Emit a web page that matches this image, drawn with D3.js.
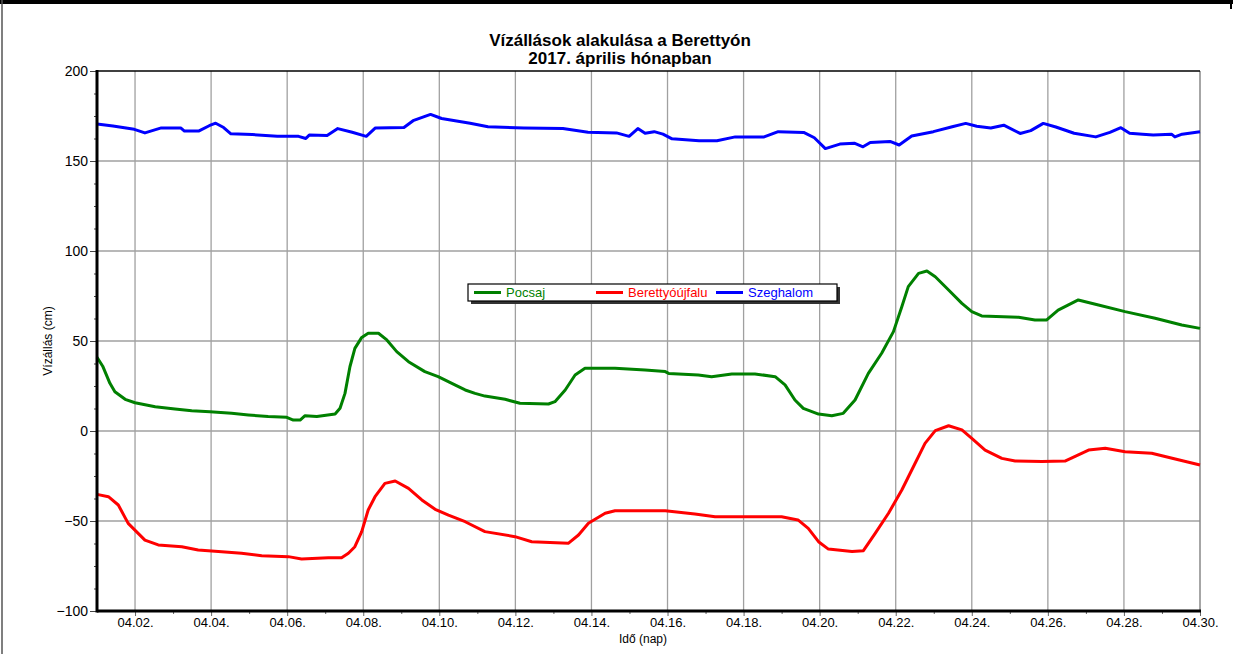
<!doctype html>
<html>
<head>
<meta charset="utf-8">
<style type="text/css">
  body { margin: 0; background: white; }
  text { font-family: "Liberation Sans", Arial, sans-serif; fill: black; }
  .title { font-size: 17px; font-weight: bold; text-anchor: middle; }
  .tick text { font-size: 13px; }
  .grid { stroke: #a0a0a0; stroke-width: 1.3; }
</style>
</head>
<body>
<svg width="1236" height="654"></svg>
<script src="https://d3js.org/d3.v7.min.js"></script>
<script>
// water levels (cm), [day of April, value]
var pocsaj = [[1.0,41],[1.15,36],[1.34,26.5],[1.47,21.8],[1.74,17.6],[2.0,15.7],[2.53,13.5],[3.05,12.2],[3.49,11.3],[3.97,10.7],
  [4.54,9.8],[4.98,8.9],[5.5,8.0],[5.99,7.6],[6.16,6.1],[6.34,6.1],[6.47,8.5],[6.78,8.0],[7.26,9.4],[7.39,12.6],[7.52,20.9],
  [7.65,35.7],[7.78,45.9],[7.96,52],[8.13,54.3],[8.4,54.3],[8.62,50.6],[8.88,44.1],[9.19,38.5],[9.62,33],[9.97,30.2],
  [10.41,25.6],[10.68,22.8],[10.94,20.9],[11.2,19.4],[11.73,17.6],[12.12,15.4],[12.87,15],[13.04,16.3],[13.31,22.8],
  [13.57,31.1],[13.83,34.8],[14.62,34.8],[15.41,33.9],[15.94,33],[16.03,32],[16.81,31.1],[17.16,30.2],[17.69,31.7],
  [18.3,31.7],[18.83,30.2],[19.09,25.6],[19.35,17.2],[19.57,12.6],[19.97,9.4],[20.32,8.5],[20.62,9.8],[20.93,17.2],
  [21.28,32],[21.63,43.2],[21.94,55.2],[22.16,69],[22.33,80.2],[22.6,87.6],[22.82,88.9],[23.04,85.7],[23.39,78.3],
  [23.74,70.9],[24.0,66.3],[24.26,63.9],[25.23,63.2],[25.66,61.7],[25.97,61.7],[26.27,67.2],[26.8,72.8],[27.33,70],
  [28.03,66.3],[28.82,62.6],[29.52,58.9],[30,57]];

var berettyoujfalu = [[1.0,-35.2],[1.3,-36.5],[1.56,-41.1],[1.82,-51.3],[2.26,-60.6],[2.61,-63.3],[3.23,-64.3],[3.66,-66.1],
  [4.28,-67.1],[4.8,-67.9],[5.33,-69.3],[6.03,-69.8],[6.38,-71.1],[7.08,-70.4],[7.43,-70.4],[7.61,-67.9],[7.78,-64.3],
  [7.96,-55.9],[8.13,-43.9],[8.31,-36.5],[8.57,-29.1],[8.84,-27.8],[9.19,-31.9],[9.54,-38.3],[9.89,-43.5],[10.24,-46.7],
  [10.68,-50.4],[11.2,-55.9],[11.99,-58.7],[12.43,-61.5],[13.39,-62.4],[13.66,-57.8],[13.92,-51.3],[14.36,-45.7],
  [14.62,-44.3],[15.94,-44.3],[16.72,-46.1],[17.25,-47.6],[19.0,-47.6],[19.43,-49.4],[19.7,-54.1],[19.97,-61.5],
  [20.23,-65.6],[20.85,-67.0],[21.15,-66.5],[21.46,-56.9],[21.81,-45.7],[22.16,-32.8],[22.51,-17.9],[22.77,-6.9],
  [23.04,0.2],[23.39,2.9],[23.74,0.6],[24.0,-4.1],[24.35,-10.6],[24.79,-15.2],[25.14,-16.7],[25.84,-17.0],[26.45,-16.7],
  [27.07,-10.6],[27.51,-9.6],[28.03,-11.5],[28.73,-12.4],[29.35,-15.6],[30,-18.9]];

var szeghalom = [[1.0,170.5],[1.42,169.4],[1.98,167.6],[2.26,165.6],[2.69,168.4],[3.2,168.4],[3.3,166.6],[3.67,166.6],
  [3.95,169.6],[4.12,171],[4.33,168.6],[4.52,165.1],[5.08,164.7],[5.74,163.7],[6.3,163.7],[6.49,162.5],[6.58,164.4],
  [7.05,164.1],[7.33,168],[7.71,166],[8.08,163.7],[8.32,168.4],[9.07,168.6],[9.31,172.4],[9.77,175.9],[10.06,173.6],
  [10.81,171],[11.28,169],[12.22,168.4],[13.25,168],[13.91,166],[14.66,165.6],[14.99,163.7],[15.22,168],[15.41,165.4],
  [15.65,166.3],[15.88,164.9],[16.12,162.3],[16.83,161.3],[17.3,161.3],[17.78,163.4],[18.54,163.4],[18.91,166.3],
  [19.58,165.9],[19.86,162.9],[20.15,156.9],[20.53,159.4],[20.91,159.9],[21.14,157.9],[21.33,160.3],[21.85,160.9],
  [22.09,158.9],[22.42,163.9],[22.99,166.3],[23.46,168.9],[23.84,170.9],[24.13,169.3],[24.5,168.3],[24.84,169.9],
  [25.27,165.3],[25.55,166.9],[25.88,170.9],[26.21,168.9],[26.69,165.4],[27.26,163.4],[27.63,165.9],[27.92,168.5],
  [28.15,165.4],[28.49,164.9],[28.77,164.4],[29.25,164.9],[29.34,163.4],[29.53,164.9],[30,166.3]];

var seriesNames = ["Pocsaj", "Berettyóújfalu", "Szeghalom"];
var seriesColors = ["#008000", "#ff0000", "#0000ff"];
var xTickDays = [2,4,6,8,10,12,14,16,18,20,22,24,26,28,30];
var yTicks = [-100,-50,0,50,100,150,200];

(function() {
var svg = d3.select("svg");
var pL = 97, pR = 1200, pT = 71, pB = 611;

var x = d3.scaleLinear().domain([1, 30]).range([pL, pR]);
var y = d3.scaleLinear().domain([-100, 200]).range([pB, pT]);

// outer frame
svg.append("line").attr("x1", 0).attr("x2", 1233).attr("y1", 2).attr("y2", 2)
  .attr("stroke", "black").attr("stroke-width", 4);
svg.append("line").attr("x1", 2).attr("x2", 2).attr("y1", 0).attr("y2", 654)
  .attr("stroke", "#555").attr("stroke-width", 1.5);
svg.append("line").attr("x1", 1231).attr("x2", 1231).attr("y1", 0).attr("y2", 9)
  .attr("stroke", "black").attr("stroke-width", 2);

// title
svg.append("text").attr("class", "title").attr("x", 620).attr("y", 46).text("Vízállások alakulása a Berettyón");
svg.append("text").attr("class", "title").attr("x", 620).attr("y", 64).text("2017. április hónapban");

// grid
svg.append("g").selectAll("line").data(xTickDays.slice(0, -1)).enter().append("line")
  .attr("class", "grid")
  .attr("x1", function(d){ return x(d); }).attr("x2", function(d){ return x(d); })
  .attr("y1", pT).attr("y2", pB);
svg.append("g").selectAll("line").data(yTicks.slice(1, -1)).enter().append("line")
  .attr("class", "grid")
  .attr("x1", pL).attr("x2", pR)
  .attr("y1", function(d){ return y(d); }).attr("y2", function(d){ return y(d); });

// plot border
svg.append("line").attr("x1", pR).attr("x2", pR).attr("y1", pT).attr("y2", pB)
  .attr("stroke", "#888").attr("stroke-width", 1.5);
svg.append("line").attr("x1", pL).attr("x2", pR).attr("y1", pT).attr("y2", pT)
  .attr("stroke", "black").attr("stroke-width", 1.5);

// minor ticks
svg.append("g").attr("transform", "translate(" + pL + ",0)")
  .call(d3.axisLeft(y).tickValues(d3.range(-100, 200.1, 12.5)).tickSize(3).tickFormat(""))
  .call(function(g){ g.select(".domain").remove(); g.selectAll("line").attr("stroke", "#444"); });
svg.append("g").attr("transform", "translate(0," + pB + ")")
  .call(d3.axisBottom(x).tickValues(d3.range(3, 30, 2)).tickSize(3).tickFormat(""))
  .call(function(g){ g.select(".domain").remove(); g.selectAll("line").attr("stroke", "#666"); });

// major axes
svg.append("g").attr("transform", "translate(" + pL + ",0)")
  .call(d3.axisLeft(y).tickValues(yTicks).tickSize(7).tickPadding(2))
  .call(function(g){
    g.select(".domain").remove();
    g.selectAll(".tick line").attr("stroke", "#444");
    g.selectAll(".tick text").style("font-size", "14px");
  });
svg.append("g").attr("transform", "translate(0," + pB + ")")
  .call(d3.axisBottom(x).tickValues(xTickDays).tickSize(5).tickPadding(2)
    .tickFormat(function(d){ return "04." + (d < 10 ? "0" : "") + d + "."; }))
  .call(function(g){
    g.select(".domain").remove();
    g.selectAll(".tick line").attr("stroke", "#666");
  });

// series
var line = d3.line().x(function(d){ return x(d[0]); }).y(function(d){ return y(d[1]); });
[pocsaj, berettyoujfalu, szeghalom].forEach(function(s, i) {
  svg.append("path").datum(s)
    .attr("fill", "none").attr("stroke", seriesColors[i])
    .attr("stroke-width", 3).attr("stroke-linejoin", "round")
    .attr("d", line);
});

// axis lines on top
svg.append("line").attr("x1", pL).attr("x2", pL).attr("y1", pT - 1).attr("y2", pB + 1.5)
  .attr("stroke", "black").attr("stroke-width", 3);
svg.append("line").attr("x1", pL).attr("x2", pR + 1).attr("y1", pB).attr("y2", pB)
  .attr("stroke", "black").attr("stroke-width", 3);

// axis titles
svg.append("text").attr("transform", "translate(52," + 341 + ") rotate(-90)")
  .attr("text-anchor", "middle").style("font-size", "12px").text("Vízállás (cm)");
svg.append("text").attr("x", 619).attr("y", 643).style("font-size", "12px").text("Idő (nap)");

// legend
var lg = svg.append("g");
lg.append("rect").attr("x", 471).attr("y", 287).attr("width", 369).attr("height", 17).attr("fill", "#333");
lg.append("rect").attr("x", 468).attr("y", 284).attr("width", 369).attr("height", 17)
  .attr("fill", "white").attr("stroke", "black").attr("stroke-width", 1.2);
var legendX = [474, 596, 716];
seriesNames.forEach(function(n, i) {
  lg.append("line").attr("x1", legendX[i]).attr("x2", legendX[i] + 27).attr("y1", 292.5).attr("y2", 292.5)
    .attr("stroke", seriesColors[i]).attr("stroke-width", 3);
  lg.append("text").attr("x", legendX[i] + 32).attr("y", 297).style("font-size", "13px")
    .style("fill", seriesColors[i]).text(n);
});
})();
</script>
</body>
</html>
